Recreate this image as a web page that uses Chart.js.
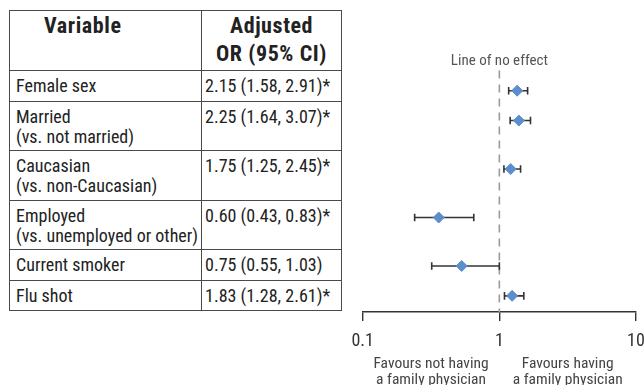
<!DOCTYPE html>
<html>
<head>
<meta charset="utf-8">
<script src="https://cdn.jsdelivr.net/npm/chart.js@4/dist/chart.umd.min.js"></script>
<style>
  body { margin: 0; background: #fff; width: 644px; height: 385px; position: relative; overflow: hidden; }
  #tbl { position: absolute; left: 9px; top: 10px; width: 333px; border-collapse: collapse; table-layout: fixed; font-family: "Roboto Condensed", Roboto, sans-serif; color: #222; }
  #tbl td, #tbl th { border: 1px solid #4a4a4a; padding: 5px 0 0 0; vertical-align: top; font-size: 18px; line-height: 20px; font-weight: normal; text-align: left; white-space: nowrap; overflow: hidden; }
  #tbl th { font-weight: bold; font-size: 22px; line-height: 28px; letter-spacing: 0.6px; padding-top: 1px; }
  #tbl td.c1 { padding-left: 6px; }
  #tbl td.c2 { padding-left: 3px; }
  #tbl th.c1 { padding-left: 34px; }
  #tbl th.c2 { text-align: center; }
  #plot { position: absolute; left: 0; top: 0; }
</style>
</head>
<body>
<table id="tbl"><colgroup><col style="width:192px"><col></colgroup><tbody></tbody></table>
<canvas id="plot" width="644" height="385"></canvas>
<script>
// table values (as printed)
const variables = ["Female sex", "Married", "Caucasian", "Employed", "Current smoker", "Flu shot"];
const comparators = ["", "(vs. not married)", "(vs. non-Caucasian)", "(vs. unemployed or other)", "", ""];
const adjustedOR = [2.15, 2.25, 1.75, 0.60, 0.75, 1.83];
const ciLower = [1.58, 1.64, 1.25, 0.43, 0.55, 1.28];
const ciUpper = [2.91, 3.07, 2.45, 0.83, 1.03, 2.61];
const significant = [true, true, true, true, false, true];

// values as drawn in the forest plot
const plotOR = [1.35, 1.39, 1.21, 0.36, 0.53, 1.24];
const plotLower = [1.17, 1.20, 1.08, 0.24, 0.32, 1.09];
const plotUpper = [1.61, 1.69, 1.43, 0.65, 1.00, 1.51];

const xTicks = [0.1, 1, 10];
const sideLabels = [["Favours not having", "a family physician"], ["Favours having", "a family physician"]];

const AXIS_H = 73;
const condensed = "'Roboto Condensed', Roboto, sans-serif";

// build the table
const tbl = document.getElementById("tbl");
let rows = '<tr style="height:60px"><th class="c1">Variable</th><th class="c2">Adjusted<br>OR (95% CI)</th></tr>';
variables.forEach((v, i) => {
  const h = comparators[i] ? 49.5 : 30.5;
  const txt = adjustedOR[i].toFixed(2) + " (" + ciLower[i].toFixed(2) + ", " + ciUpper[i].toFixed(2) + ")" + (significant[i] ? "*" : "");
  rows += `<tr style="height:${h}px"><td class="c1"><div class="main">${v}</div>${comparators[i] ? "<div>" + comparators[i] + "</div>" : ""}</td><td class="c2">${txt}</td></tr>`;
});
tbl.tBodies[0].innerHTML = rows;

// marker rows line up with each variable's label line
const rowY = Array.from(tbl.querySelectorAll(".main")).map(el => {
  const r = el.getBoundingClientRect();
  return r.top + r.height / 2;
});
const headerBottom = tbl.rows[0].getBoundingClientRect().bottom;

const datasets = [
  {
    label: "OR",
    data: plotOR.map((v, i) => ({ x: v, y: rowY[i] })),
    pointStyle: "rectRot",
    pointRadius: 5.5,
    backgroundColor: "#5b8ecb",
    borderColor: "#5b8ecb",
    borderWidth: 1,
  },
];
plotOR.forEach((v, i) => {
  datasets.push({
    label: "CI " + variables[i],
    data: [{ x: plotLower[i], y: rowY[i] }, { x: plotUpper[i], y: rowY[i] }],
    showLine: true,
    borderColor: "#333",
    borderWidth: 1.6,
    pointStyle: "line",
    rotation: 90,
    pointRadius: 3.8,
    pointBorderWidth: 1.6,
    pointBorderColor: "#333",
  });
});

const annotations = {
  id: "annotations",
  beforeDatasetsDraw(chart) {
    const { ctx, chartArea, scales } = chart;
    const x = scales.x.getPixelForValue(1);
    ctx.save();
    ctx.strokeStyle = "#9a9a9a";
    ctx.lineWidth = 1.6;
    ctx.setLineDash([8, 6]);
    ctx.beginPath();
    ctx.moveTo(x, headerBottom);
    ctx.lineTo(x, chartArea.bottom);
    ctx.stroke();
    ctx.setLineDash([]);
    ctx.fillStyle = "#555";
    ctx.font = "15px " + condensed;
    ctx.textAlign = "center";
    ctx.textBaseline = "alphabetic";
    ctx.fillText("Line of no effect", x, 65);
    ctx.restore();
  },
  afterDraw(chart) {
    const { ctx, scales } = chart;
    const centres = [Math.sqrt(xTicks[0] * xTicks[1]), Math.sqrt(xTicks[1] * xTicks[2])];
    ctx.save();
    ctx.fillStyle = "#444";
    ctx.font = "15.5px " + condensed;
    ctx.textAlign = "center";
    sideLabels.forEach((lines, k) => {
      const x = scales.x.getPixelForValue(centres[k]);
      lines.forEach((t, j) => ctx.fillText(t, x, 367.5 + j * 16));
    });
    ctx.restore();
  },
};

new Chart(document.getElementById("plot"), {
  type: "scatter",
  data: { datasets },
  options: {
    responsive: false,
    animation: false,
    layout: { padding: { left: 362.7, right: 8, top: 0, bottom: 0 } },
    plugins: { legend: { display: false }, tooltip: { enabled: false } },
    scales: {
      x: {
        type: "logarithmic",
        min: 0.1,
        max: 10,
        afterBuildTicks: scale => {
          scale.ticks = xTicks.map(v => ({ value: v }));
        },
        afterFit: scale => {
          scale.height = AXIS_H;
          scale.paddingLeft = 0;
          scale.paddingRight = 0;
        },
        border: { display: true, color: "#333", width: 1.4 },
        grid: { drawOnChartArea: false, drawTicks: true, tickLength: 9, color: "#333", lineWidth: 1.4 },
        ticks: {
          autoSkip: false,
          maxRotation: 0,
          padding: 10,
          color: "#333",
          font: { family: condensed, size: 18 },
          callback: v => String(v),
        },
      },
      y: {
        display: false,
        min: 0,
        max: 385 - AXIS_H,
        reverse: true,
      },
    },
  },
  plugins: [annotations],
});
</script>
</body>
</html>
